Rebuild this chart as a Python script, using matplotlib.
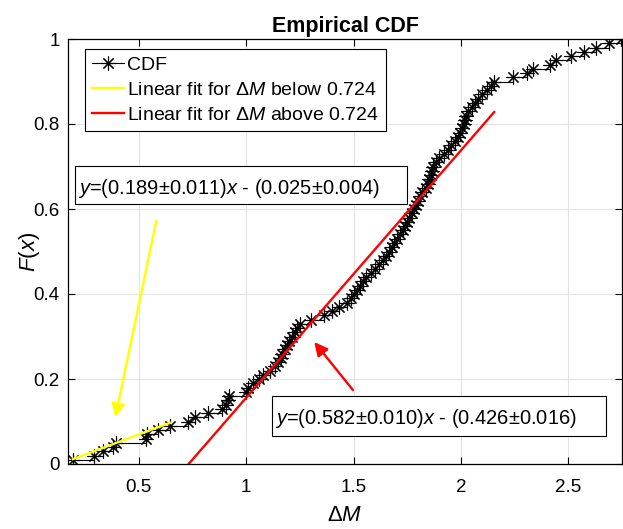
import matplotlib
matplotlib.use("Agg")
import matplotlib.pyplot as plt
from matplotlib.patches import Rectangle
import numpy as np

plt.rcParams['font.family'] = ['Liberation Sans', 'DejaVu Sans']
plt.rcParams['mathtext.fontset'] = 'custom'
plt.rcParams['mathtext.rm'] = 'Liberation Sans'
plt.rcParams['mathtext.it'] = 'Liberation Sans:italic'
plt.rcParams['mathtext.bf'] = 'Liberation Sans:bold'

# sorted sample values of Delta M
dM = [0.193, 0.29, 0.335, 0.38, 0.395, 0.535, 0.54, 0.59, 0.645, 0.73,
      0.76, 0.82, 0.885, 0.905, 0.915, 0.92, 1.00, 1.01, 1.03, 1.06,
      1.08, 1.11, 1.135, 1.15, 1.16, 1.165, 1.18, 1.19, 1.20, 1.215,
      1.225, 1.235, 1.25, 1.30, 1.36, 1.40, 1.43, 1.47, 1.49, 1.50,
      1.515, 1.53, 1.545, 1.56, 1.58, 1.60, 1.62, 1.635, 1.65, 1.665,
      1.68, 1.69, 1.70, 1.715, 1.73, 1.74, 1.75, 1.76, 1.77, 1.78,
      1.79, 1.80, 1.81, 1.82, 1.835, 1.845, 1.85, 1.86, 1.865, 1.87,
      1.885, 1.90, 1.92, 1.94, 1.955, 1.97, 1.985, 1.995, 2.005, 2.015,
      2.02, 2.025, 2.035, 2.05, 2.065, 2.08, 2.10, 2.12, 2.14, 2.155,
      2.244, 2.309, 2.337, 2.416, 2.444, 2.514, 2.574, 2.630, 2.690, 2.747]

threshold = 0.724
fit_low = (0.189, -0.025)   # slope, intercept
fit_high = (0.582, -0.426)
low_range = [0.193, 0.645]
high_range = [0.73, 2.155]

low_text = r'$y$=(0.189$\pm$0.011)$x$ - (0.025$\pm$0.004)'
high_text = r'$y$=(0.582$\pm$0.010)$x$ - (0.426$\pm$0.016)'

x = np.array(dM)
F = np.arange(1, len(x) + 1) / len(x)

W, H = 623, 529
fig = plt.figure(figsize=(W / 100, H / 100), dpi=100)
ax = fig.add_axes([68 / W, 1 - 464 / H, (622 - 68) / W, (464 - 39) / H])

ast = (8, 2, 0)
ax.step(x, F, where='post', color='black', lw=0.8, marker=ast,
        markersize=10, markeredgewidth=0.8, label='CDF')
xl = np.array(low_range)
ax.plot(xl, fit_low[0] * xl + fit_low[1], color='#ffff00', lw=1.7,
        label=r'Linear fit for $\Delta M$ below %.3f' % threshold)
xh = np.array(high_range)
ax.plot(xh, fit_high[0] * xh + fit_high[1], color='#ff0000', lw=1.7,
        label=r'Linear fit for $\Delta M$ above %.3f' % threshold)

ax.set_xlim(0.17, 2.75)
ax.set_ylim(0, 1)
ax.set_xticks([0.5, 1, 1.5, 2, 2.5])
ax.set_xticklabels(['0.5', '1', '1.5', '2', '2.5'])
ax.set_yticks([0, 0.2, 0.4, 0.6, 0.8, 1])
ax.set_yticklabels(['0', '0.2', '0.4', '0.6', '0.8', '1'])
ax.tick_params(direction='in', length=5, width=0.8, top=True, right=True,
               labelsize=13.5)
ax.tick_params(axis='x', pad=11)
ax.tick_params(axis='y', pad=6)
ax.grid(True, color='#e3e3e3', lw=0.8)
for s in ax.spines.values():
    s.set_linewidth(0.9)
    s.set_color('black')

ax.set_title('Empirical CDF', fontsize=15.5, fontweight='bold', pad=5)
ax.set_xlabel(r'$\Delta M$', fontsize=16, labelpad=6)
ax.set_ylabel(r'$F$($x$)', fontsize=16)
ax.yaxis.set_label_coords((42 - 68) / (622 - 68), 0.5)

leg = ax.legend(loc='upper left', bbox_to_anchor=((85 - 68) / (622 - 68), 1 - (49 - 39) / (464 - 39)),
                fontsize=14, frameon=True, fancybox=False, edgecolor='black',
                framealpha=1, borderaxespad=0, handlelength=1.6, handletextpad=0.2,
                labelspacing=0.38, borderpad=0.38)
leg.get_frame().set_linewidth(0.8)

def box(x0, y0, x1, y1, txt):
    r = Rectangle((x0 / W, 1 - y1 / H), (x1 - x0) / W, (y1 - y0) / H,
                  transform=fig.transFigure, fc='white', ec='black', lw=0.8, zorder=5)
    fig.add_artist(r)
    fig.text((x0 + 3) / W, 1 - (y0 + y1) / 2 / H, txt, fontsize=14.5,
             ha='left', va='center_baseline', zorder=6)

box(75, 166, 407, 204, low_text)
box(272, 396, 606, 436, high_text)

ax.annotate('', xy=(0.388, 0.104), xytext=(0.584, 0.579),
            arrowprops=dict(arrowstyle='-|>', color='#ffff00', lw=1.7, mutation_scale=20))
ax.annotate('', xy=(1.309, 0.292), xytext=(1.505, 0.169),
            arrowprops=dict(arrowstyle='-|>', color='#ff0000', lw=1.7, mutation_scale=20))

fig.savefig('out.png', dpi=100)
